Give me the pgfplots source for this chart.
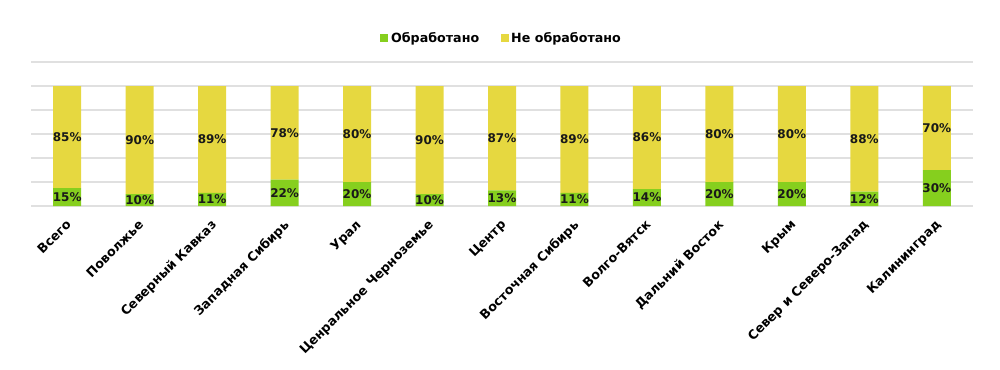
\documentclass[border=0pt]{standalone}
\usepackage{fontspec}
\setmainfont{DejaVu Sans}
\usepackage{pgfplots}
\usepackage{pgfplotstable}
\pgfplotsset{compat=1.18}
\definecolor{cgreen}{HTML}{86CF1E}
\definecolor{cyellow}{HTML}{E6D840}
\pgfplotstableread{
x g y
0 15 85
1 10 90
2 11 89
3 22 78
4 20 80
5 10 90
6 13 87
7 11 89
8 14 86
9 20 80
10 20 80
11 12 88
12 30 70
}\data
\pgfplotstablecreatecol[create col/expr={\thisrow{g}/2}]{gm}\data
\pgfplotstablecreatecol[create col/expr={\thisrow{g}+\thisrow{y}/2}]{ym}\data
\pgfplotsset{common/.style={
  at={(23.25pt,122.25pt)}, anchor=south west,
  scale only axis, width=706.5pt, height=108pt,
  xmin=-0.5, xmax=12.5, ymin=0, ymax=120}}
\begin{document}
\begin{tikzpicture}
\begin{axis}[common,
  ybar stacked, bar width=21pt,
  ytick={0,20,...,120}, yticklabels={}, ymajorgrids,
  grid style={black!12, line width=0.8pt},
  axis line style={draw=none}, major tick length=0pt,
  xtick={0,...,12},
  xticklabels={Всего,Поволжье,Северный Кавказ,Западная Сибирь,Урал,Ценральное Черноземье,Центр,Восточная Сибирь,Волго-Вятск,Дальний Восток,Крым,Север и Северо-Запад,Калининград},
  xticklabel style={xshift=-1.5pt, yshift=-8pt, rotate=45, anchor=north east, font=\bfseries\fontsize{9.5}{10}\selectfont, inner sep=1pt},
  legend style={at={(0.5,1.1667)}, anchor=center, draw=none, legend columns=2,
    font=\bfseries\fontsize{9.5}{10}\selectfont,
    /tikz/every even column/.append style={column sep=14pt}},
  legend image code/.code={\fill[#1] (0pt,-3pt) rectangle (6pt,3pt);},
]
\addplot[fill=cgreen, draw=none] table[x=x, y=g] {\data};
\addplot[fill=cyellow, draw=none] table[x=x, y=y] {\data};
\legend{Обработано, Не обработано}
\end{axis}
\begin{axis}[common, hide axis,
  /pgf/number format/assume math mode=true,
  nodes near coords={\pgfmathprintnumber{\pgfplotspointmeta}\%},
  every node near coord/.append style={anchor=center, font=\bfseries\fontsize{9}{10}\selectfont, text=black!90},
]
\addplot[draw=none, mark=none, point meta=\thisrow{g}] table[x=x, y=gm] {\data};
\addplot[draw=none, mark=none, point meta=\thisrow{y}] table[x=x, y=ym] {\data};
\end{axis}
\pgfresetboundingbox
\path[use as bounding box] (0pt,0pt) rectangle (750pt,276.75pt);
\end{tikzpicture}
\end{document}
